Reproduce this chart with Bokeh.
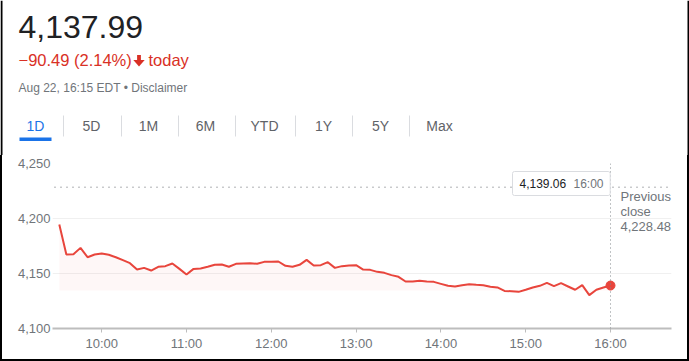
import pandas as pd
from bokeh.plotting import figure
from bokeh.models import (Range1d, FixedTicker, NumeralTickFormatter,
                          Span, Label, Arrow)
from bokeh.core.properties import value
from bokeh.layouts import row
from bokeh.embed import file_html
from bokeh.resources import INLINE

# ---------------- data ----------------
day = "2022-08-22"
times = pd.date_range(f"{day} 09:30", f"{day} 16:00", freq="5min")
prices = [
    4194.5, 4167.3, 4167.5, 4173.3, 4164.8, 4167.3,
    4168.2, 4167.0, 4164.8, 4162.1, 4159.4, 4153.6, 4155.1, 4152.7, 4156.1, 4156.7, 4159.1, 4154.2,
    4149.1, 4154.2, 4154.5, 4156.1, 4157.9, 4158.2, 4156.1, 4158.8, 4159.1, 4159.4, 4158.8, 4160.6,
    4160.6, 4160.9, 4157.0, 4156.1, 4157.9, 4162.4, 4157.3, 4157.6, 4160.3, 4155.1, 4156.7, 4157.3,
    4157.6, 4153.6, 4153.3, 4151.5, 4150.6, 4148.5, 4147.0, 4142.7, 4142.7, 4143.3, 4142.7, 4142.4,
    4140.6, 4138.8, 4138.2, 4139.4, 4140.3, 4139.7, 4139.4, 4137.9, 4137.3, 4134.2, 4133.9, 4133.3,
    4135.2, 4137.3, 4138.8, 4141.5, 4138.5, 4141.2, 4138.2, 4135.2, 4139.4, 4130.3, 4135.2, 4137.3,
    4139.06,
]
last_price = 4137.99
change = -90.49
change_pct = 2.14
prev_close = 4228.48
stamp = "Aug 22, 16:15 EDT \u2022 Disclaimer"
tabs = ["1D", "5D", "1M", "6M", "YTD", "1Y", "5Y", "Max"]
y_ticks = [4100, 4150, 4200, 4250]
x_tick_labels = ["10:00", "11:00", "12:00", "13:00", "14:00", "15:00", "16:00"]

# ---------------- styles / layout ----------------
W, H = 689, 361
EDGE = 2                      # black page edge width
HDR_H = 155
CH_H = H - HDR_H - EDGE
FR_L, FR_R = 52, 671          # chart frame left/right (page px)
RED = "#e8453c"
RED_TXT = "#d93025"
GRAY = "#70757a"
DARK = "#202124"
BLUE = "#1a73e8"
FONT = "Liberation Sans"


def black_strip(w, h):
    s = figure(width=w, height=h, output_backend="svg", toolbar_location=None,
               x_axis_location=None, y_axis_location=None,
               x_range=Range1d(0, 1), y_range=Range1d(0, 1),
               min_border_left=0, min_border_right=0, min_border_top=0, min_border_bottom=0,
               border_fill_color=None, background_fill_color=None,
               styles={"background-color": "black"})
    s.grid.visible = False
    s.outline_line_color = None
    s.quad(left=[0], right=[1], bottom=[0], top=[1], fill_color="black", line_color=None)
    return s


# ---------------- header (data units == page pixels) ----------------
hdr = figure(width=W, height=HDR_H, x_range=Range1d(0, W), y_range=Range1d(HDR_H, 0),
             output_backend="svg", toolbar_location=None,
             x_axis_location=None, y_axis_location=None,
             min_border_left=0, min_border_right=0, min_border_top=0, min_border_bottom=0)
hdr.grid.visible = False
hdr.outline_line_color = None


def htext(x, y, text, size, color, align="left"):
    hdr.text(x=x, y=y, text=text, text_font=value(FONT), text_font_size=size,
             text_color=color, text_align=align, text_baseline="alphabetic")


htext([18], [26], [f"{last_price:,.2f}"], "32px", DARK)
htext([18], [59], [f"\u2212{abs(change):.2f} ({change_pct:.2f}%)"], "16.5px", RED_TXT)
# down arrow
hdr.quad(left=[136.6], right=[140.4], top=[54.5], bottom=[60.5], fill_color=RED_TXT, line_color=None)
hdr.patch(x=[132.8, 144.2, 138.5], y=[59.5, 59.5, 66.0], fill_color=RED_TXT, line_color=None)
htext([148], [59], ["today"], "16.5px", RED_TXT)
htext([18], [87], [stamp], "12px", GRAY)

tab_x = [35, 91, 148, 205, 264, 323, 380, 439]
sep_x = [63, 121, 178, 235, 295, 352, 409]
tab_colors = [BLUE] + ["#5f6368"] * (len(tabs) - 1)
htext(tab_x, [125] * len(tabs), tabs, "14px", tab_colors, align="center")
hdr.segment(x0=sep_x, y0=[115] * len(sep_x), x1=sep_x, y1=[136] * len(sep_x),
            line_color="#dadce0", line_width=1)
hdr.quad(left=[19], right=[51], top=[137], bottom=[140.5], fill_color=BLUE, line_color=None)
# page edges (left/right)
hdr.quad(left=[0, W - EDGE], right=[EDGE, W], top=[0, 0], bottom=[HDR_H, HDR_H],
         fill_color="black", line_color=None)

# ---------------- chart ----------------
t_end = times[-1]
px_per_hour = 84.8
X_END_PX = 610                 # page x of 16:00
Y_TOP_PX, Y_BOT_PX = 163, 328  # page y of 4250 / 4100
px_per_pt = (Y_BOT_PX - Y_TOP_PX) / (y_ticks[-1] - y_ticks[0])


def px_to_t(px):
    return t_end + pd.Timedelta(hours=(px - X_END_PX) / px_per_hour)


def py_to_v(py):
    return y_ticks[-1] - (py - Y_TOP_PX) / px_per_pt


ch = figure(width=W - 2 * EDGE, height=CH_H, x_axis_type="datetime",
            x_range=Range1d(px_to_t(FR_L), px_to_t(FR_R)), y_range=Range1d(y_ticks[0], y_ticks[-1]),
            output_backend="svg", toolbar_location=None,
            min_border_left=FR_L - EDGE, min_border_right=W - EDGE - FR_R,
            min_border_top=Y_TOP_PX - HDR_H, min_border_bottom=HDR_H + CH_H - Y_BOT_PX)
ch.outline_line_color = None
ch.xgrid.visible = False
ch.ygrid.grid_line_color = "#f0f0f0"
ch.ygrid.ticker = FixedTicker(ticks=y_ticks)

tick_ms = [pd.Timestamp(f"{day} {t}").value // 10**6 for t in x_tick_labels]
ch.xaxis.ticker = FixedTicker(ticks=tick_ms)
ch.xaxis.major_label_overrides = {ms: lab for ms, lab in zip(tick_ms, x_tick_labels)}
ch.xaxis.axis_line_color = "#bdbdbd"
ch.xaxis.axis_line_width = 2
ch.xaxis.major_tick_line_color = "#bdbdbd"
ch.xaxis.major_tick_line_width = 1
ch.xaxis.major_tick_out = 4
ch.xaxis.major_tick_in = 0
ch.xaxis.minor_tick_line_color = None
ch.xaxis.major_label_standoff = 3
ch.xaxis.major_label_text_font = FONT
ch.xaxis.major_label_text_font_size = "13px"
ch.xaxis.major_label_text_color = GRAY

ch.yaxis.ticker = FixedTicker(ticks=y_ticks)
ch.yaxis.formatter = NumeralTickFormatter(format="0,0")
ch.yaxis.axis_line_color = None
ch.yaxis.major_tick_line_color = None
ch.yaxis.minor_tick_line_color = None
ch.yaxis.major_tick_out = 0
ch.yaxis.major_tick_in = 0
ch.yaxis.major_label_standoff = 2
ch.yaxis.major_label_text_font = FONT
ch.yaxis.major_label_text_font_size = "13px"
ch.yaxis.major_label_text_color = GRAY

fill_floor = 4134.5
ch.varea(x=times, y1=prices, y2=fill_floor, fill_color=RED, fill_alpha=0.045)
ch.line(x=times, y=prices, line_color=RED, line_width=2)
ch.scatter(x=[times[-1]], y=[prices[-1]], size=9, fill_color=RED, line_color=RED)

# previous close dotted line (extends left under the labels)
ch.add_layout(Arrow(x_start=px_to_t(18), y_start=prev_close, x_end=px_to_t(670), y_end=prev_close,
                    start=None, end=None, line_color="#5f6368", line_width=1, line_dash="1 5"))

ch.add_layout(Span(location=t_end, dimension="height", line_color="#80868b",
                   line_width=1, line_dash="1 3"))

ch.add_layout(Label(x=t_end, y=prev_close, x_offset=10, y_offset=-2,
                    text=f"Previous\nclose\n{prev_close:,.2f}", text_font=FONT,
                    text_font_size="13px", text_color=GRAY, text_baseline="top",
                    text_line_height=0.98))

tip_y = py_to_v(183)
ch.add_layout(Label(x=t_end, y=tip_y, x_offset=-98, text=f"{prices[-1]:,.2f}",
                    text_font=FONT, text_font_size="12px", text_color=DARK,
                    text_align="left", text_baseline="middle",
                    background_fill_color="white", border_line_color="#dadce0",
                    padding=(7, 44, 7, 8), border_radius=2))
ch.add_layout(Label(x=t_end, y=tip_y, x_offset=-37, text=t_end.strftime("%H:%M"),
                    text_font=FONT, text_font_size="12px", text_color=GRAY,
                    text_align="left", text_baseline="middle"))

body = row(black_strip(EDGE, CH_H), ch, black_strip(EDGE, CH_H), spacing=0)
bottom = black_strip(W, EDGE)

open("out.html", "w").write(file_html([hdr, body, bottom], INLINE))
